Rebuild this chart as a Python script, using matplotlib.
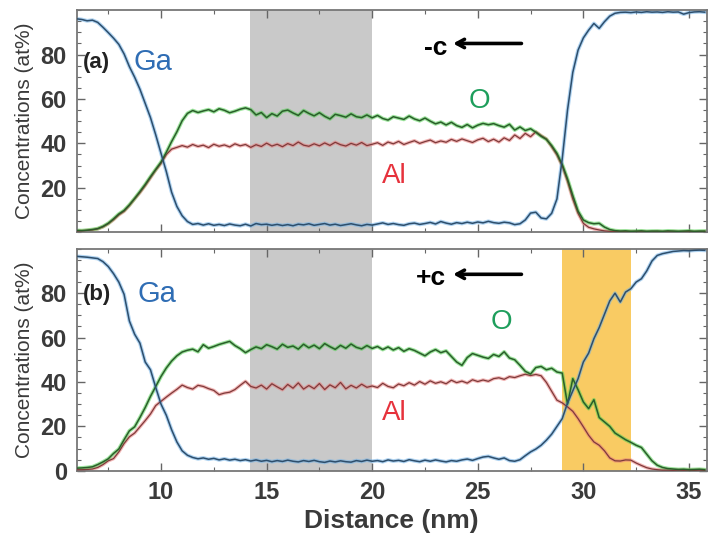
import numpy as np
import matplotlib
matplotlib.use("Agg")
import matplotlib.pyplot as plt
from matplotlib.ticker import MultipleLocator

plt.rcParams['font.family'] = ['Liberation Sans', 'DejaVu Sans']

# Distance grid (nm), one sample every 0.25 nm
distance = np.arange(6.0, 35.76, 0.25)

# Panel (a): -c interface profiles (at%)
ga_a = [96.1, 95.8, 95.2, 95.5, 94.5, 92.3, 89.9, 87.4, 84.6, 80.3,
        74.6, 69.8, 64.4, 58.0, 51.6, 43.8, 35.5, 27.3, 18.0, 11.6,
        7.4, 4.8, 3.5, 3.9, 3.2, 3.8, 3.1, 3.5, 3.0, 3.7,
        3.2, 2.9, 3.6, 2.8, 3.9, 3.4, 3.6, 3.1, 3.5, 3.0,
        3.4, 2.9, 3.6, 3.3, 3.8, 3.1, 3.5, 3.9, 3.2, 3.6,
        3.0, 3.4, 3.8, 3.3, 2.9, 3.5, 3.2, 3.7, 4.2, 3.5,
        3.9, 3.4, 3.1, 3.8, 4.1, 3.5, 3.9, 4.4, 3.7, 4.8,
        4.1, 3.6, 4.3, 3.9, 4.5, 4.0, 4.6, 4.2, 4.9, 4.3,
        4.0, 4.5, 4.2, 3.4, 3.8, 5.5, 8.6, 9.0, 6.4, 6.0,
        8.5, 15.0, 33.0, 55.0, 72.0, 82.0, 87.5, 91.0, 94.0, 91.8,
        94.8, 97.3, 98.6, 99.0, 99.1, 98.9, 99.2, 99.0, 99.3, 99.1,
        99.2, 99.0, 99.3, 99.1, 99.2, 98.2, 98.9, 99.2, 99.3, 99.1]
o_a = [0.8, 0.7, 0.9, 1.2, 1.6, 2.6, 4.0, 6.0, 8.2, 9.8,
       12.3, 15.2, 18.3, 21.5, 25.0, 28.3, 31.6, 36.0, 40.8, 45.2,
       50.2, 53.5, 54.8, 53.9, 54.6, 55.2, 54.2, 55.6, 54.9, 53.8,
       54.5, 55.4, 56.0, 55.2, 52.8, 53.9, 51.6, 53.4, 52.3, 54.5,
       55.0, 53.7, 52.6, 54.8, 53.5, 52.4, 53.8, 52.2, 51.0, 53.1,
       52.5, 51.8, 53.3, 52.0, 51.6, 52.8, 51.5, 52.6, 51.2, 50.5,
       52.0, 51.4, 50.8, 52.3, 51.0, 50.2, 51.4, 50.0, 48.8, 49.6,
       48.3, 49.5, 48.0, 47.2, 48.5, 47.0, 48.2, 49.0, 48.4, 48.9,
       48.0, 47.3, 48.6, 46.0, 47.4, 45.8, 46.6, 45.0, 43.2, 41.8,
       39.0, 35.5, 30.5, 24.0, 16.5, 9.5, 5.5, 4.3, 3.8, 4.0,
       2.3, 1.2, 0.7, 0.5, 0.6, 0.4, 0.5, 0.6, 0.4, 0.5,
       0.5, 0.4, 0.6, 0.5, 0.4, 0.5, 0.6, 0.4, 0.5, 0.5]
al_a = [0.5, 0.6, 0.8, 1.0, 1.5, 2.4, 3.8, 5.6, 7.8, 9.4,
        12.0, 15.0, 17.8, 21.0, 24.5, 28.0, 31.0, 35.0, 37.4, 38.2,
        39.0, 38.3, 39.5, 38.6, 39.2, 38.1, 39.6, 38.7, 39.3, 38.4,
        39.8, 38.9, 39.5, 38.2, 39.4, 38.6, 40.1, 38.8, 39.6, 38.5,
        39.9, 39.0, 40.6, 39.2, 38.7, 39.8, 38.9, 40.2, 39.1, 40.5,
        39.4, 38.8, 40.0, 39.2, 40.4, 39.0, 39.6, 40.3, 39.1, 40.6,
        39.8, 40.9, 39.5, 40.4, 41.2, 40.0, 40.8, 41.5, 40.3, 41.1,
        40.5, 41.8, 40.9, 42.0, 41.2, 40.4, 41.6, 42.3, 40.8, 41.9,
        40.6, 42.5, 41.3, 43.8, 42.2, 44.5, 43.0, 45.2, 43.5, 42.0,
        38.5, 34.8, 29.8, 23.0, 15.0, 8.5, 4.0, 2.2, 1.5, 1.0,
        0.6, 0.4, 0.3, 0.3, 0.2, 0.3, 0.2, 0.3, 0.2, 0.2,
        0.3, 0.2, 0.2, 0.3, 0.2, 0.2, 0.3, 0.2, 0.2, 0.3]

# Panel (b): +c interface profiles (at%)
ga_b = [96.6, 96.4, 96.2, 95.9, 95.6, 94.2, 92.0, 88.8, 85.0, 79.5,
        67.5, 61.5, 57.5, 49.0, 45.5, 37.5, 30.0, 25.0, 18.5, 13.0,
        9.0, 7.0, 6.0, 5.4, 5.8, 5.2, 5.6, 4.9, 5.4, 4.8,
        5.2, 4.6, 5.0, 4.4, 4.9, 4.3, 4.7, 4.1, 4.6, 4.2,
        4.8, 4.3, 4.0, 4.6, 4.2, 4.7, 4.1, 3.8, 4.4, 4.0,
        4.5, 4.1, 3.9, 4.6, 4.2, 4.8, 4.3, 4.6, 4.1, 4.9,
        4.4, 4.7, 4.2, 5.0, 4.5, 4.1, 4.8, 4.3, 4.9, 4.4,
        4.0, 4.6, 4.3, 4.9, 5.3, 4.7, 5.5, 6.2, 6.5, 5.8,
        5.2, 5.8, 4.6, 4.3, 5.0, 6.8, 8.5, 9.8, 11.5, 13.8,
        16.5, 20.0, 23.5, 30.5, 36.0, 41.5, 49.0, 53.0, 59.5, 64.5,
        70.5, 76.5, 80.0, 76.0, 80.5, 82.0, 85.0, 86.5, 90.0, 94.5,
        97.0, 97.8, 98.3, 98.8, 99.0, 99.2, 99.1, 99.3, 99.4, 99.3]
o_b = [1.2, 1.3, 1.5, 1.8, 2.8, 4.0, 5.4, 7.8, 9.8, 14.0,
       18.0, 19.8, 24.0, 28.5, 33.5, 38.0, 42.5, 46.3, 49.4, 51.8,
       53.5, 54.3, 54.8, 53.6, 56.8, 55.2, 56.0, 56.9, 57.6, 58.3,
       56.4, 55.0, 53.2, 54.6, 55.8, 55.0, 56.8, 55.9, 54.8, 57.0,
       55.6, 56.2, 54.8, 57.0, 55.4, 56.6, 55.0, 57.3, 55.9, 54.7,
       56.5, 55.2, 57.1, 55.6, 54.9, 56.4, 55.1, 56.0, 54.6, 55.8,
       54.4, 55.5, 53.8, 55.0, 54.2, 53.0, 51.8, 53.5, 54.6, 53.2,
       54.0, 51.5, 49.0, 47.5, 51.0, 52.8, 52.0, 51.2, 50.6, 52.4,
       51.5, 53.6, 50.8, 50.0, 47.5, 44.8, 43.6, 46.5, 47.0, 45.5,
       46.2, 44.5, 44.0, 30.0, 41.5, 36.5, 31.0, 28.0, 32.0, 24.0,
       22.0, 20.0, 17.0, 15.5, 14.0, 12.8, 11.5, 10.5, 7.5, 4.5,
       2.5, 1.5, 1.0, 0.8, 0.6, 0.7, 0.5, 0.6, 0.7, 0.5]
al_b = [0.5, 0.5, 0.6, 0.8, 1.5, 2.8, 4.5, 5.5, 8.5, 12.3,
        15.3, 17.0, 19.8, 22.6, 25.6, 29.4, 31.3, 33.2, 35.0, 36.7,
        38.6, 37.5, 36.8, 38.5, 38.0, 37.0, 36.2, 34.3, 35.0, 35.4,
        36.6, 38.5, 40.3, 38.0, 37.3, 38.6, 36.8, 39.2, 37.8, 36.5,
        38.9, 37.2, 39.6, 36.8, 38.4, 37.0, 39.3, 36.6, 38.7, 37.4,
        39.8, 36.9, 38.5, 37.3, 39.0, 37.6, 38.2, 37.5, 39.4, 38.0,
        37.4, 39.1, 38.3, 39.7, 38.6, 40.2, 39.0, 40.5, 39.4, 40.1,
        39.2, 40.8, 39.7, 40.4, 39.5, 41.0, 40.2, 40.9, 40.3, 41.5,
        41.9, 41.2, 42.4, 42.0, 42.8, 43.5, 42.9, 43.4, 42.8, 39.8,
        35.8, 31.8, 30.6, 28.8, 26.8, 23.5, 19.8, 16.0, 13.0, 11.5,
        9.0, 5.8, 4.5, 4.4, 4.9, 4.8, 3.5, 2.4, 1.4, 0.8,
        0.5, 0.3, 0.3, 0.2, 0.3, 0.2, 0.3, 0.2, 0.3, 0.2]

grey_band = [14.2, 20.0]
orange_band = [29.0, 32.25]

# (halo colour, core colour, core width) for each element
styles = {
    "Al": ("#e77a7a", "#7e3a3a", 0.9),
    "O": ("#4fcf4f", "#2a5e2a", 1.1),
    "Ga": ("#6fb0e6", "#2d4e6c", 1.1),
}
label_colors = {"Ga": "#2f6db4", "O": "#1e9e5c", "Al": "#e6323c"}
tick_color = "#3a3a3a"


def draw_profiles(ax, ga, o, al):
    for name, values in (("Al", al), ("O", o), ("Ga", ga)):
        halo, core, lw = styles[name]
        ax.plot(distance, values, color=halo, lw=lw + 1.6, alpha=0.55,
                solid_joinstyle="round", zorder=2)
        ax.plot(distance, values, color=core, lw=lw, zorder=3)


def style_axes(ax):
    ax.set_xlim(6, 35.85)
    ax.set_ylim(0, 100)
    ax.xaxis.set_major_locator(MultipleLocator(5))
    ax.xaxis.set_minor_locator(MultipleLocator(2.5))
    ax.yaxis.set_major_locator(MultipleLocator(20))
    ax.yaxis.set_minor_locator(MultipleLocator(5))
    ax.tick_params(which="both", direction="in", top=True, right=True,
                   colors="#666666", labelcolor=tick_color)
    ax.tick_params(which="major", length=6, width=1.0, labelsize=17, pad=7)
    ax.tick_params(which="minor", length=3, width=0.8)
    for sp in ax.spines.values():
        sp.set_color("#777777")
        sp.set_linewidth(1.3)
    ax.set_ylabel("Concentrations (at%)", fontsize=15, color="#3a3a3a")
    ax.yaxis.set_label_coords(-0.068, 0.5)


fig = plt.figure(figsize=(7.09, 5.35), dpi=100)
ax_a = fig.add_axes([0.108, 0.566, 0.889, 0.415])
ax_b = fig.add_axes([0.108, 0.120, 0.889, 0.415])

for ax in (ax_a, ax_b):
    ax.axvspan(grey_band[0], grey_band[1], color="#c9c9c9", lw=0, zorder=1)
ax_b.axvspan(orange_band[0], orange_band[1], color="#f9cb63", lw=0, zorder=1)

draw_profiles(ax_a, ga_a, o_a, al_a)
draw_profiles(ax_b, ga_b, o_b, al_b)

style_axes(ax_a)
style_axes(ax_b)
ax_a.set_yticks([20, 40, 60, 80])
ax_a.set_yticklabels(["20", "40", "60", "80"], fontweight="bold")
ax_a.tick_params(axis="x", labelbottom=False)
ax_b.set_yticks([0, 20, 40, 60, 80])
ax_b.set_yticklabels(["0", "20", "40", "60", "80"], fontweight="bold")
ax_b.set_xticks([10, 15, 20, 25, 30, 35])
ax_b.set_xticklabels(["10", "15", "20", "25", "30", "35"], fontweight="bold")

ax_b.set_xlabel("Distance (nm)", fontsize=19, fontweight="bold", color=tick_color)
ax_b.xaxis.set_label_coords(0.5, -0.17)

# panel annotations
ax_a.text(6.95, 76.5, "(a)", fontsize=16, fontweight="bold", color="#222222",
          ha="center", va="center")
ax_b.text(6.95, 79.5, "(b)", fontsize=16, fontweight="bold", color="#222222",
          ha="center", va="center")
ax_a.text(9.6, 76.5, "Ga", fontsize=21, color=label_colors["Ga"], ha="center", va="center")
ax_b.text(9.8, 79.5, "Ga", fontsize=21, color=label_colors["Ga"], ha="center", va="center")
ax_a.text(25.1, 59.0, "O", fontsize=20, color=label_colors["O"], ha="center", va="center")
ax_b.text(26.1, 67.0, "O", fontsize=20, color=label_colors["O"], ha="center", va="center")
ax_a.text(21.05, 25.5, "Al", fontsize=20, color=label_colors["Al"], ha="center", va="center")
ax_b.text(21.05, 26.0, "Al", fontsize=20, color=label_colors["Al"], ha="center", va="center")

arrow = dict(arrowstyle="->,head_length=0.55,head_width=0.3", lw=2.6, color="black")
ax_a.text(23.0, 83.0, "-c", fontsize=19, fontweight="bold", ha="center", va="center")
ax_a.annotate("", xy=(23.7, 85.0), xytext=(27.2, 85.0), arrowprops=arrow)
ax_b.text(22.8, 86.8, "+c", fontsize=19, fontweight="bold", ha="center", va="center")
ax_b.annotate("", xy=(23.7, 88.5), xytext=(27.2, 88.5), arrowprops=arrow)

fig.savefig("out.png", dpi=100)
